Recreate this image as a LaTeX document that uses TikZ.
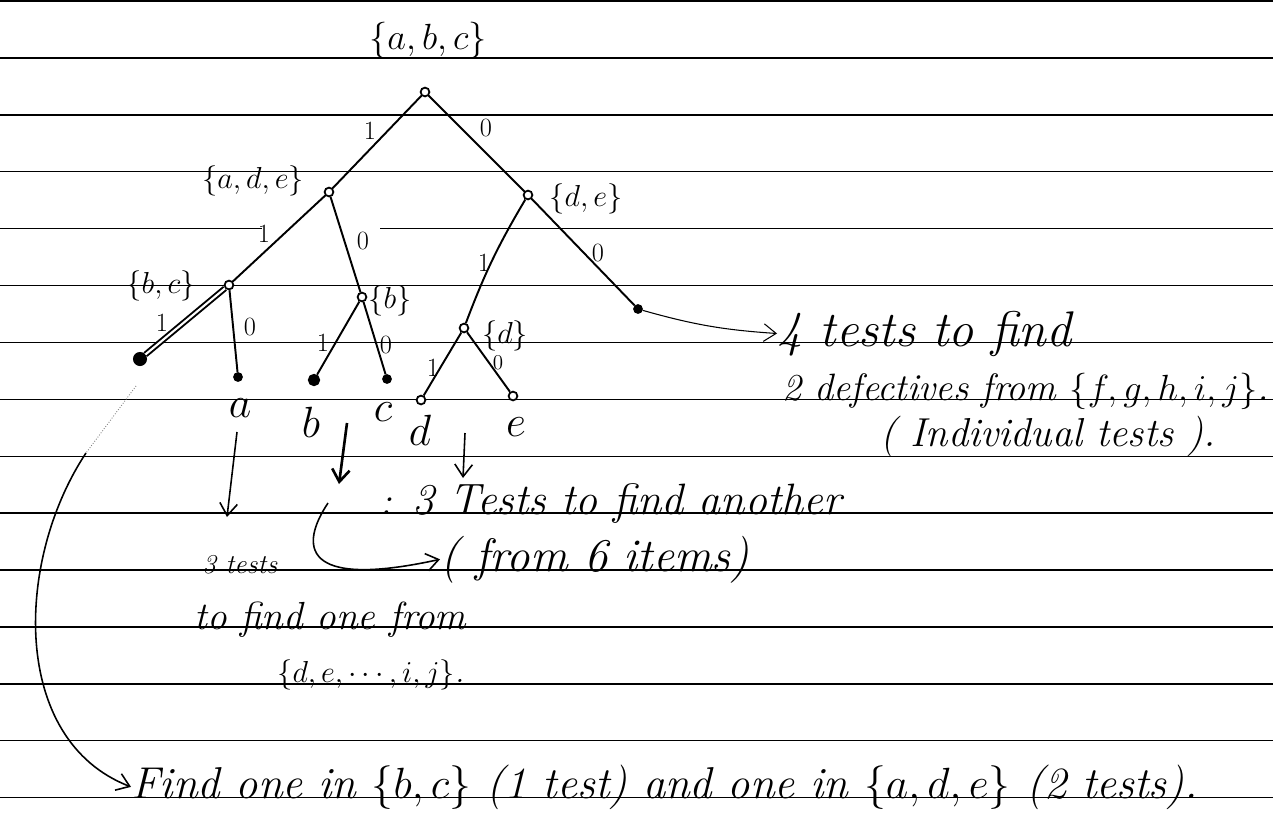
\documentclass[tikz,border=0pt]{standalone}
\usetikzlibrary{arrows.meta}
\begin{document}
\begin{tikzpicture}[x=0.02cm,y=-0.02cm]
  % Define style for tree
  \tikzstyle{knot} = [draw, circle, line width=1pt, inner sep=0pt, minimum size=5pt, fill=white]
  \tikzstyle{leaf} = [draw, circle, line width=1pt, inner sep=0pt, minimum size=4.5pt, fill=black]
  \tikzstyle{edge} = [line width=1.1pt]
  \tikzstyle{bit} = [inner sep=0pt, font=\fontsize{15}{15}\selectfont]
  \tikzstyle{setlabel} = [inner sep=0pt, font=\fontsize{18}{18}\selectfont]
  \tikzstyle{item} = [inner sep=0pt, font=\fontsize{26}{26}\selectfont]
  \tikzstyle{hand} = [inner sep=0pt, anchor=base west, font=\itshape]
  \tikzstyle{pen} = [line width=0.9pt, -{Straight Barb[length=7pt,width=10pt]}]

  \useasboundingbox (0,0) rectangle (1273,819);
  \fill[white] (0,0) rectangle (1273,819);

  % Draw the ruled lines
  \foreach \k in {0,1,2,3,5,6,7,8,9,10,11,12,13,14} {
    \draw[line width=0.8pt] (0,1+56.9*\k) -- (1273,1+56.9*\k);
  }
  \draw[line width=0.8pt] (0,228.6) -- (262,228.6);
  \draw[line width=0.8pt] (380,228.6) -- (1273,228.6);

  % Tree nodes
  \node[knot] (root) at (425,92) {};
  \node[knot] (ade) at (329,192) {};
  \node[knot] (de) at (528,195) {};
  \node[knot] (bc) at (229,285) {};
  \node[knot] (b1) at (362,297) {};
  \node[knot] (dd) at (464,328) {};
  \node[leaf, minimum size=7pt] (leafbc) at (140,359) {};
  \node[leaf] (leafa) at (238,377) {};
  \node[leaf, minimum size=6pt] (leafb) at (314,380) {};
  \node[leaf] (leafc) at (387,379) {};
  \node[knot] (leafd) at (421,400) {};
  \node[knot] (leafe) at (513,396) {};
  \node[leaf] (leaff) at (638,309) {};

  % Tree edges
  \draw[edge] (root) -- (ade);
  \draw[edge] (root) -- (de);
  \draw[edge] (ade) -- (bc);
  \draw[edge] (ade) -- (b1);
  \draw[edge] (de) to[bend right=5] (dd);
  \draw[edge] (de) -- (leaff);
  \draw[edge, double, double distance=1.2pt] (bc) -- (leafbc);
  \draw[edge] (bc) -- (leafa);
  \draw[edge] (b1) -- (leafb);
  \draw[edge] (b1) -- (leafc);
  \draw[edge] (dd) -- (leafd);
  \draw[edge] (dd) -- (leafe);

  % Edge labels
  \node[bit] (l1) at (370,131) {1};
  \node[bit] (l2) at (486,128) {0};
  \node[bit] (l3) at (264,234) {1};
  \node[bit] (l4) at (363,241) {0};
  \node[bit] (l5) at (484,263) {1};
  \node[bit] (l6) at (598,253) {0};
  \node[bit] (l7) at (162,323) {1};
  \node[bit] (l8) at (250,327) {0};
  \node[bit] (l9) at (323,343) {1};
  \node[bit] (l10) at (386,345) {0};
  \node[bit] (l11) at (433,368) {1};
  \node[bit, font=\fontsize{12}{12}\selectfont] (l12) at (498,363) {0};

  % Set labels
  \node[setlabel, font=\fontsize{22}{22}\selectfont] (sabc) at (428,40) {$\{a, b, c\}$};
  \node[setlabel] (sade) at (253,181) {$\{a,d,e\}$};
  \node[setlabel] (sde) at (586,199) {$\{d,e\}$};
  \node[setlabel] (sbc) at (161,286) {$\{b,c\}$};
  \node[setlabel] (sb) at (390,301) {$\{b\}$};
  \node[setlabel] (sd) at (505,336) {$\{d\}$};

  % Leaf labels
  \node[item] (ta) at (240,408) {$a$};
  \node[item] (tb) at (311,422) {$b$};
  \node[item] (tc) at (383,412) {$c$};
  \node[item] (td) at (420,430) {$d$};
  \node[item] (te) at (516,427) {$e$};

  % Notes
  \node[hand, font=\fontsize{28.5}{28.5}\selectfont\itshape] (n4) at (777,346) {4 tests to find};
  \node[hand, font=\fontsize{21.7}{21.7}\selectfont\itshape] (n2) at (782,400) {2 defectives from $\{f, g, h, i, j\}$.};
  \node[hand, font=\fontsize{23}{23}\selectfont\itshape] (nind) at (880,446) {( Individual tests ).};
  \node[hand, font=\fontsize{22}{22}\selectfont\itshape] (ncol) at (380,514) {:};
  \node[hand, font=\fontsize{25}{25}\selectfont\itshape] (n3) at (412,514) {3 Tests to find another};
  \node[hand, font=\fontsize{26.7}{26.7}\selectfont\itshape] (n6) at (440,571) {( from 6 items)};
  \node[hand, font=\fontsize{15.5}{15.5}\selectfont\itshape] (n3t) at (202,573) {3 tests};
  \node[hand, font=\fontsize{22.3}{22.3}\selectfont\itshape] (nfind) at (194,629) {to find one from};
  \node[hand, font=\fontsize{18}{18}\selectfont\itshape] (nset) at (277,682) {$\{d, e, \cdots, i, j\}$.};
  \node[hand, font=\fontsize{25.4}{25.4}\selectfont\itshape] (nbot) at (131,798) {Find one in $\{b, c\}$ (1 test) and one in $\{a,d,e\}$ (2 tests).};

  % Arrows
  \coordinate (pa) at (237,432);
  \coordinate (pa2) at (227,517);
  \coordinate (pbc) at (347,423);
  \coordinate (pbc2) at (339,484);
  \coordinate (pde) at (465,433);
  \coordinate (pde2) at (463,478);
  \coordinate (ploop) at (328,503);
  \coordinate (pbig) at (136,386);
  \coordinate (pbig2) at (86,453);
  \draw[pen] (pa) -- (pa2);
  \draw[pen, line width=1.5pt] (pbc) -- (pbc2);
  \draw[pen] (pde) -- (pde2);
  \draw[pen] (ploop) .. controls (300,545) and (300,590) .. (n6.west);
  \draw[pen, line width=0.6pt] (leaff) to[bend right=6] (n4.west);
  \draw[line width=0.5pt, gray, densely dotted] (pbig) -- (pbig2);
  \draw[pen] (pbig2) .. controls (15,560) and (10,740) .. (nbot.west);
\end{tikzpicture}
\end{document}
